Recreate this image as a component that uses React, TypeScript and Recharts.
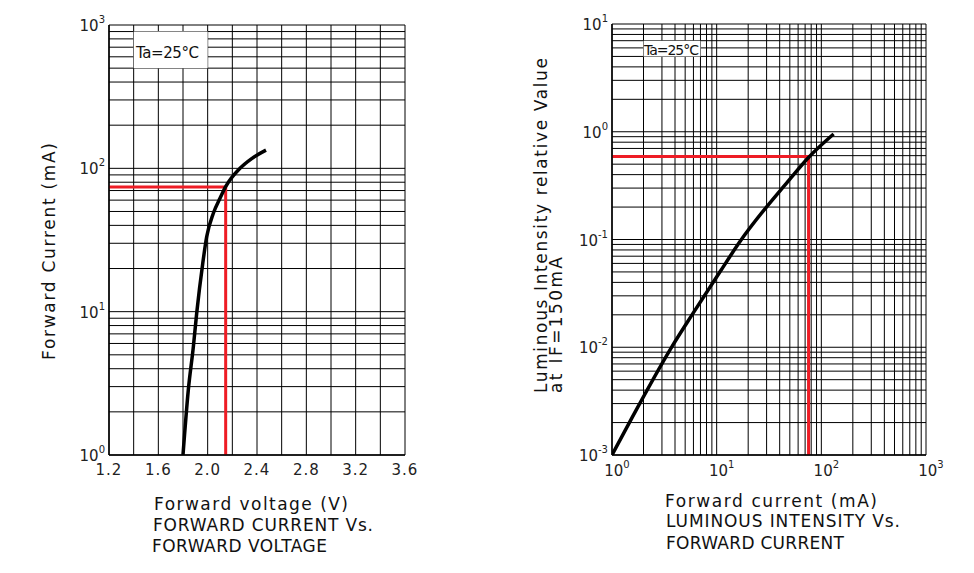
import React from 'react';
import { LineChart, Line, XAxis, YAxis, CartesianGrid, ReferenceArea } from 'recharts';

const FONT = '"DejaVu Sans", sans-serif';
const RED = '#ee1c25';

// Forward current vs forward voltage (left)
const fwdVoltage = [1.8, 1.843, 1.884, 1.911, 1.96, 1.992, 2.046, 2.1, 2.146, 2.262, 2.357, 2.473];
const fwdCurrent = [1.0, 2.84, 5.7, 9.75, 21.7, 33.3, 48.6, 61.8, 74.5, 100, 117, 134];
const opVoltage = 2.146;
const opCurrent = 74;

// Luminous intensity vs forward current (right)
const ifCurrent = [1, 1.55, 3.74, 5.81, 10.8, 16.45, 49.4, 75.5, 131];
const relIntensity = [0.001, 0.00221, 0.01014, 0.01995, 0.0504, 0.0937, 0.358, 0.577, 0.952];
const opIf = 75.5;
const opLum = 0.59;

// ticks / grid
const vfTicks = [1.2, 1.4, 1.6, 1.8, 2.0, 2.2, 2.4, 2.6, 2.8, 3.0, 3.2, 3.4, 3.6];
const vfTickLabels = ['1.2', '1.6', '2.0', '2.4', '2.8', '3.2', '3.6'];
const mALogTicks = [
  1, 2, 3, 4, 5, 6, 7, 8, 9,
  10, 20, 30, 40, 50, 60, 70, 80, 90,
  100, 200, 300, 400, 500, 600, 700, 800, 900,
  1000,
];
const lumLogTicks = [
  0.001, 0.002, 0.003, 0.004, 0.005, 0.006, 0.007, 0.008, 0.009,
  0.01, 0.02, 0.03, 0.04, 0.05, 0.06, 0.07, 0.08, 0.09,
  0.1, 0.2, 0.3, 0.4, 0.5, 0.6, 0.7, 0.8, 0.9,
  1, 2, 3, 4, 5, 6, 7, 8, 9,
  10,
];

const vfData = fwdVoltage.map((v, i) => ({ v, i: fwdCurrent[i] }));
const vfRed = [
  { v: vfTicks[0], i: opCurrent },
  { v: opVoltage, i: opCurrent },
  { v: opVoltage, i: mALogTicks[0] },
];
const lumData = ifCurrent.map((c, i) => ({ c, l: relIntensity[i] }));
const lumRed = [
  { c: mALogTicks[0], l: opLum },
  { c: opIf, l: opLum },
  { c: opIf, l: lumLogTicks[0] },
];

const decadeExp = (v: number) => {
  const lg = Math.log10(v);
  const e = Math.round(lg);
  return Math.abs(lg - e) < 1e-6 ? String(e) : null;
};

const YPowerTick = (props: any) => {
  const { x, y, payload } = props;
  const e = decadeExp(payload.value);
  if (e === null) return <g />;
  return (
    <text x={x + 4} y={y + 6} textAnchor="end" fontFamily={FONT} fill="#222">
      <tspan fontSize={15}>10</tspan>
      <tspan fontSize={10} dy={-8}>{e}</tspan>
    </text>
  );
};

const XPowerTick = (props: any) => {
  const { x, y, payload } = props;
  const e = decadeExp(payload.value);
  if (e === null) return <g />;
  return (
    <text x={x + 5} y={y + 13} textAnchor="middle" fontFamily={FONT} fill="#222">
      <tspan fontSize={15}>10</tspan>
      <tspan fontSize={10} dy={-8}>{e}</tspan>
    </text>
  );
};

const VoltTick = (props: any) => {
  const { x, y, payload } = props;
  const s = Number(payload.value).toFixed(1);
  if (!vfTickLabels.includes(s)) return <g />;
  return (
    <text x={x} y={y + 12} textAnchor="middle" fontFamily={FONT} fontSize={15} letterSpacing={1} fill="#222">
      {s}
    </text>
  );
};

const captionStyle = { fontFamily: FONT, fontSize: 17, fill: '#111' };

export default function App() {
  return (
    <div style={{ position: 'absolute', left: 0, top: 0, width: 974, height: 573, background: '#fff' }}>
      {/* Forward current vs forward voltage */}
      <div style={{ position: 'absolute', left: 0, top: 0 }}>
        <LineChart width={487} height={573} margin={{ top: 25, right: 82, bottom: 88, left: 49 }}>
          <CartesianGrid stroke="#000" strokeWidth={1} />
          <XAxis
            type="number"
            dataKey="v"
            domain={[1.2, 3.6]}
            ticks={vfTicks}
            interval={0}
            allowDataOverflow
            height={30}
            axisLine={{ stroke: '#000', strokeWidth: 1.5 }}
            tickLine={false}
            tick={<VoltTick />}
          />
          <YAxis
            type="number"
            scale="log"
            domain={[1, 1000]}
            ticks={mALogTicks}
            interval={0}
            allowDataOverflow
            width={60}
            axisLine={{ stroke: '#000', strokeWidth: 1.5 }}
            tickLine={false}
            tick={<YPowerTick />}
          />
          <ReferenceArea x1={1.4} x2={2.0} y1={500} y2={900} fill="#fff" fillOpacity={1} stroke="none" />
          <Line data={vfRed} dataKey="i" type="linear" stroke={RED} strokeWidth={3} dot={false} isAnimationActive={false} />
          <Line data={vfData} dataKey="i" type="monotone" stroke="#000" strokeWidth={3.5} dot={false} isAnimationActive={false} />
        </LineChart>
      </div>

      {/* Luminous intensity vs forward current */}
      <div style={{ position: 'absolute', left: 487, top: 0 }}>
        <LineChart width={487} height={573} margin={{ top: 24, right: 48, bottom: 88, left: 65 }}>
          <CartesianGrid stroke="#000" strokeWidth={1} />
          <XAxis
            type="number"
            dataKey="c"
            scale="log"
            domain={[1, 1000]}
            ticks={mALogTicks}
            interval={0}
            allowDataOverflow
            height={30}
            axisLine={{ stroke: '#000', strokeWidth: 1.5 }}
            tickLine={false}
            tick={<XPowerTick />}
          />
          <YAxis
            type="number"
            scale="log"
            domain={[0.001, 10]}
            ticks={lumLogTicks}
            interval={0}
            allowDataOverflow
            width={60}
            axisLine={{ stroke: '#000', strokeWidth: 1.5 }}
            tickLine={false}
            tick={<YPowerTick />}
          />
          <ReferenceArea x1={2} x2={7} y1={5} y2={7} fill="#fff" fillOpacity={1} stroke="none" />
          <Line data={lumRed} dataKey="l" type="linear" stroke={RED} strokeWidth={3} dot={false} isAnimationActive={false} />
          <Line data={lumData} dataKey="l" type="monotone" stroke="#000" strokeWidth={3.5} dot={false} isAnimationActive={false} />
        </LineChart>
      </div>

      {/* titles and captions */}
      <svg width={974} height={573} style={{ position: 'absolute', left: 0, top: 0, pointerEvents: 'none' }}>
        <text x={136} y={58} fontFamily={FONT} fontSize={15} fill="#111" textLength={63} lengthAdjust="spacing">Ta=25°C</text>
        <text x={644} y={55} fontFamily={FONT} fontSize={14} fill="#111" textLength={55} lengthAdjust="spacing">Ta=25°C</text>

        <text transform="translate(55,360) rotate(-90)" {...captionStyle} textLength={217} lengthAdjust="spacing">Forward Current (mA)</text>
        <text x={154} y={510} {...captionStyle} textLength={194} lengthAdjust="spacing">Forward voltage (V)</text>
        <text x={153} y={531} {...captionStyle} textLength={220} lengthAdjust="spacing">FORWARD CURRENT Vs.</text>
        <text x={152} y={552} {...captionStyle} textLength={175} lengthAdjust="spacing">FORWARD VOLTAGE</text>

        <text transform="translate(547,393) rotate(-90)" {...captionStyle} textLength={335} lengthAdjust="spacing">Luminous Intensity relative Value</text>
        <text transform="translate(562,393) rotate(-90)" {...captionStyle} textLength={136} lengthAdjust="spacing">at IF=150mA</text>
        <text x={665} y={507} {...captionStyle} textLength={212} lengthAdjust="spacing">Forward current (mA)</text>
        <text x={666} y={527} {...captionStyle} textLength={234} lengthAdjust="spacing">LUMINOUS INTENSITY Vs.</text>
        <text x={666} y={549} {...captionStyle} textLength={178} lengthAdjust="spacing">FORWARD CURRENT</text>
      </svg>
    </div>
  );
}
